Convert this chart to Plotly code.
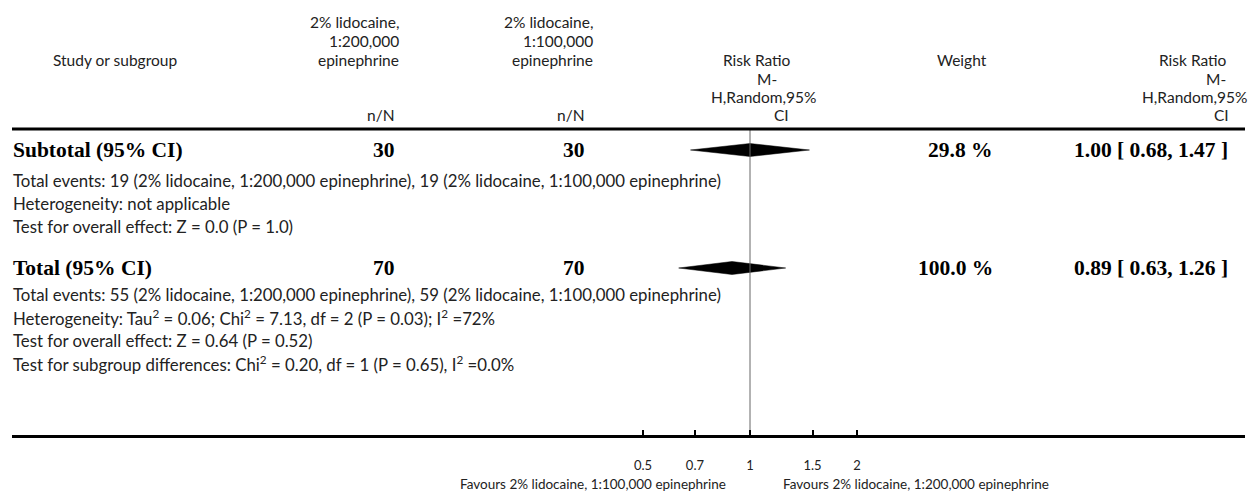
import math
import plotly.graph_objects as go

W, H = 1259, 504

# ---------------- data ----------------
group_labels = ["Subtotal (95% CI)", "Total (95% CI)"]
n_exp = [30, 70]
n_ctrl = [30, 70]
weight_text = ["29.8 %", "100.0 %"]
rr_est = [1.00, 0.89]
rr_low = [0.68, 0.63]
rr_high = [1.47, 1.26]

subtotal_notes = [
    "Total events: 19 (2% lidocaine, 1:200,000 epinephrine), 19 (2% lidocaine, 1:100,000 epinephrine)",
    "Heterogeneity: not applicable",
    "Test for overall effect: Z = 0.0 (P = 1.0)",
]
total_notes = [
    "Total events: 55 (2% lidocaine, 1:200,000 epinephrine), 59 (2% lidocaine, 1:100,000 epinephrine)",
    "Heterogeneity: Tau<sup>2</sup> = 0.06; Chi<sup>2</sup> = 7.13, df = 2 (P = 0.03); I<sup>2</sup> =72%",
    "Test for overall effect: Z = 0.64 (P = 0.52)",
    "Test for subgroup differences: Chi<sup>2</sup> = 0.20, df = 1 (P = 0.65), I<sup>2</sup> =0.0%",
]
exp_header = ["2% lidocaine,", "1:200,000", "epinephrine"]
ctrl_header = ["2% lidocaine,", "1:100,000", "epinephrine"]
rr_header = ["Risk Ratio", "M-", "H,Random,95%", "CI"]
tick_vals = [0.5, 0.7, 1, 1.5, 2]
tick_text = ["0.5", "0.7", "1", "1.5", "2"]
favours_left = "Favours 2% lidocaine, 1:100,000 epinephrine"
favours_right = "Favours 2% lidocaine, 1:200,000 epinephrine"

# ---------------- layout constants (pixels) ----------------
SANS = "Lato, 'Gill Sans', sans-serif"
SERIF = "'Liberation Serif', 'Times New Roman', serif"
TXT = "#222222"
FS = 16.8     # body notes
HFS = 15.5    # header
BFS = 21.5    # bold rows

hdr_y = [22, 41, 60, 79, 97, 115]
top_line_y = 129
bottom_line_y = 436
group_rows = [150, 268]
rows_sub_notes = [180, 203, 226]
rows_tot_notes = [294, 317, 340, 363]

line_x0, line_x1 = 12, 1245
one_px = 750.0           # pixel of RR = 1
px_per_decade = 355.45
x_range = [(line_x0 - one_px) / px_per_decade, (line_x1 - one_px) / px_per_decade]

col_study_c = 115
col_exp_r = 396
col_ctrl_r = 586
col_exp_hdr_r = 400
col_ctrl_hdr_r = 594
col_w_r = 994
col_rr_r = 1229
diamond_half_h = 6.5

fig = go.Figure()

# diamonds
for est, lo, hi, yc in zip(rr_est, rr_low, rr_high, group_rows):
    fig.add_trace(go.Scatter(
        x=[lo, est, hi, est, lo],
        y=[yc, yc - diamond_half_h, yc, yc + diamond_half_h, yc],
        mode="lines", fill="toself", fillcolor="black",
        line=dict(color="black", width=0.5), hoverinfo="skip"))

# line of no effect
fig.add_trace(go.Scatter(x=[1, 1], y=[top_line_y, bottom_line_y], mode="lines",
                         line=dict(color="#666666", width=1), hoverinfo="skip"))

ann = []


def t(x, y, text, anchor="left", size=FS, family=SANS, color=TXT, bold=False):
    if bold:
        text = "<b>" + text + "</b>"
    ann.append(dict(xref="paper", x=x / W, yref="y", y=y, text=text, showarrow=False,
                    xanchor=anchor, yanchor="middle", borderpad=0,
                    font=dict(family=family, size=size, color=color)))


# continued label (cut at top)
t(1256, -3, "(. . .  Continued)", "right", HFS)

# headers
t(col_study_c, hdr_y[2], "Study or subgroup", "center", HFS)
for i, s in enumerate(exp_header):
    t(col_exp_hdr_r, hdr_y[i], s, "right", HFS)
for i, s in enumerate(ctrl_header):
    t(col_ctrl_hdr_r, hdr_y[i], s, "right", HFS)
t(col_exp_r, hdr_y[5], "n/N", "right", HFS)
t(col_ctrl_r, hdr_y[5], "n/N", "right", HFS)
rr4_right = [792, 778, 817, 790]
rr6_right = [1228, 1227, 1248, 1230]
for i, s in enumerate(rr_header):
    t(rr4_right[i], hdr_y[2 + i], s, "right", HFS)
    t(rr6_right[i], hdr_y[2 + i], s, "right", HFS)
t(col_w_r - 6, hdr_y[2], "Weight", "right", HFS)

# group rows
for lab, ne, nc, wt, est, lo, hi, yc in zip(group_labels, n_exp, n_ctrl, weight_text,
                                             rr_est, rr_low, rr_high, group_rows):
    t(12, yc, lab, "left", BFS, SERIF, "black", True)
    t(col_exp_r, yc, str(ne), "right", BFS, SERIF, "black", True)
    t(col_ctrl_r, yc, str(nc), "right", BFS, SERIF, "black", True)
    t(col_w_r, yc, wt, "right", BFS, SERIF, "black", True)
    t(col_rr_r, yc, f"{est:.2f} [ {lo:.2f}, {hi:.2f} ]", "right", BFS, SERIF, "black", True)

for s, y in zip(subtotal_notes, rows_sub_notes):
    t(12, y, s)
for s, y in zip(total_notes, rows_tot_notes):
    t(12, y, s)

# favours
t(727, 484, favours_left, "right", 13.5)
t(782, 484, favours_right, "left", 13.5)

fig.update_layout(
    width=W, height=H, autosize=False,
    margin=dict(l=0, r=0, t=0, b=0, pad=0),
    paper_bgcolor="white", plot_bgcolor="white",
    showlegend=False,
    annotations=ann,
    shapes=[dict(type="line", xref="paper", yref="y", x0=line_x0 / W, x1=line_x1 / W,
                 y0=top_line_y, y1=top_line_y, line=dict(color="black", width=3))],
    xaxis=dict(type="log", domain=[line_x0 / W, line_x1 / W], range=x_range,
               anchor="free", position=1 - bottom_line_y / H,
               showline=True, linewidth=3, linecolor="black",
               ticks="inside", ticklen=5, tickwidth=2, tickcolor="black",
               tickvals=tick_vals, ticktext=tick_text, ticklabelstandoff=16,
               tickfont=dict(family=SANS, size=13, color=TXT),
               showgrid=False, zeroline=False, fixedrange=True),
    yaxis=dict(range=[H, 0], domain=[0, 1], visible=False, fixedrange=True),
)

fig.write_html("out.html", config={"displayModeBar": False},
               post_script="document.body.style.margin='0px';")
